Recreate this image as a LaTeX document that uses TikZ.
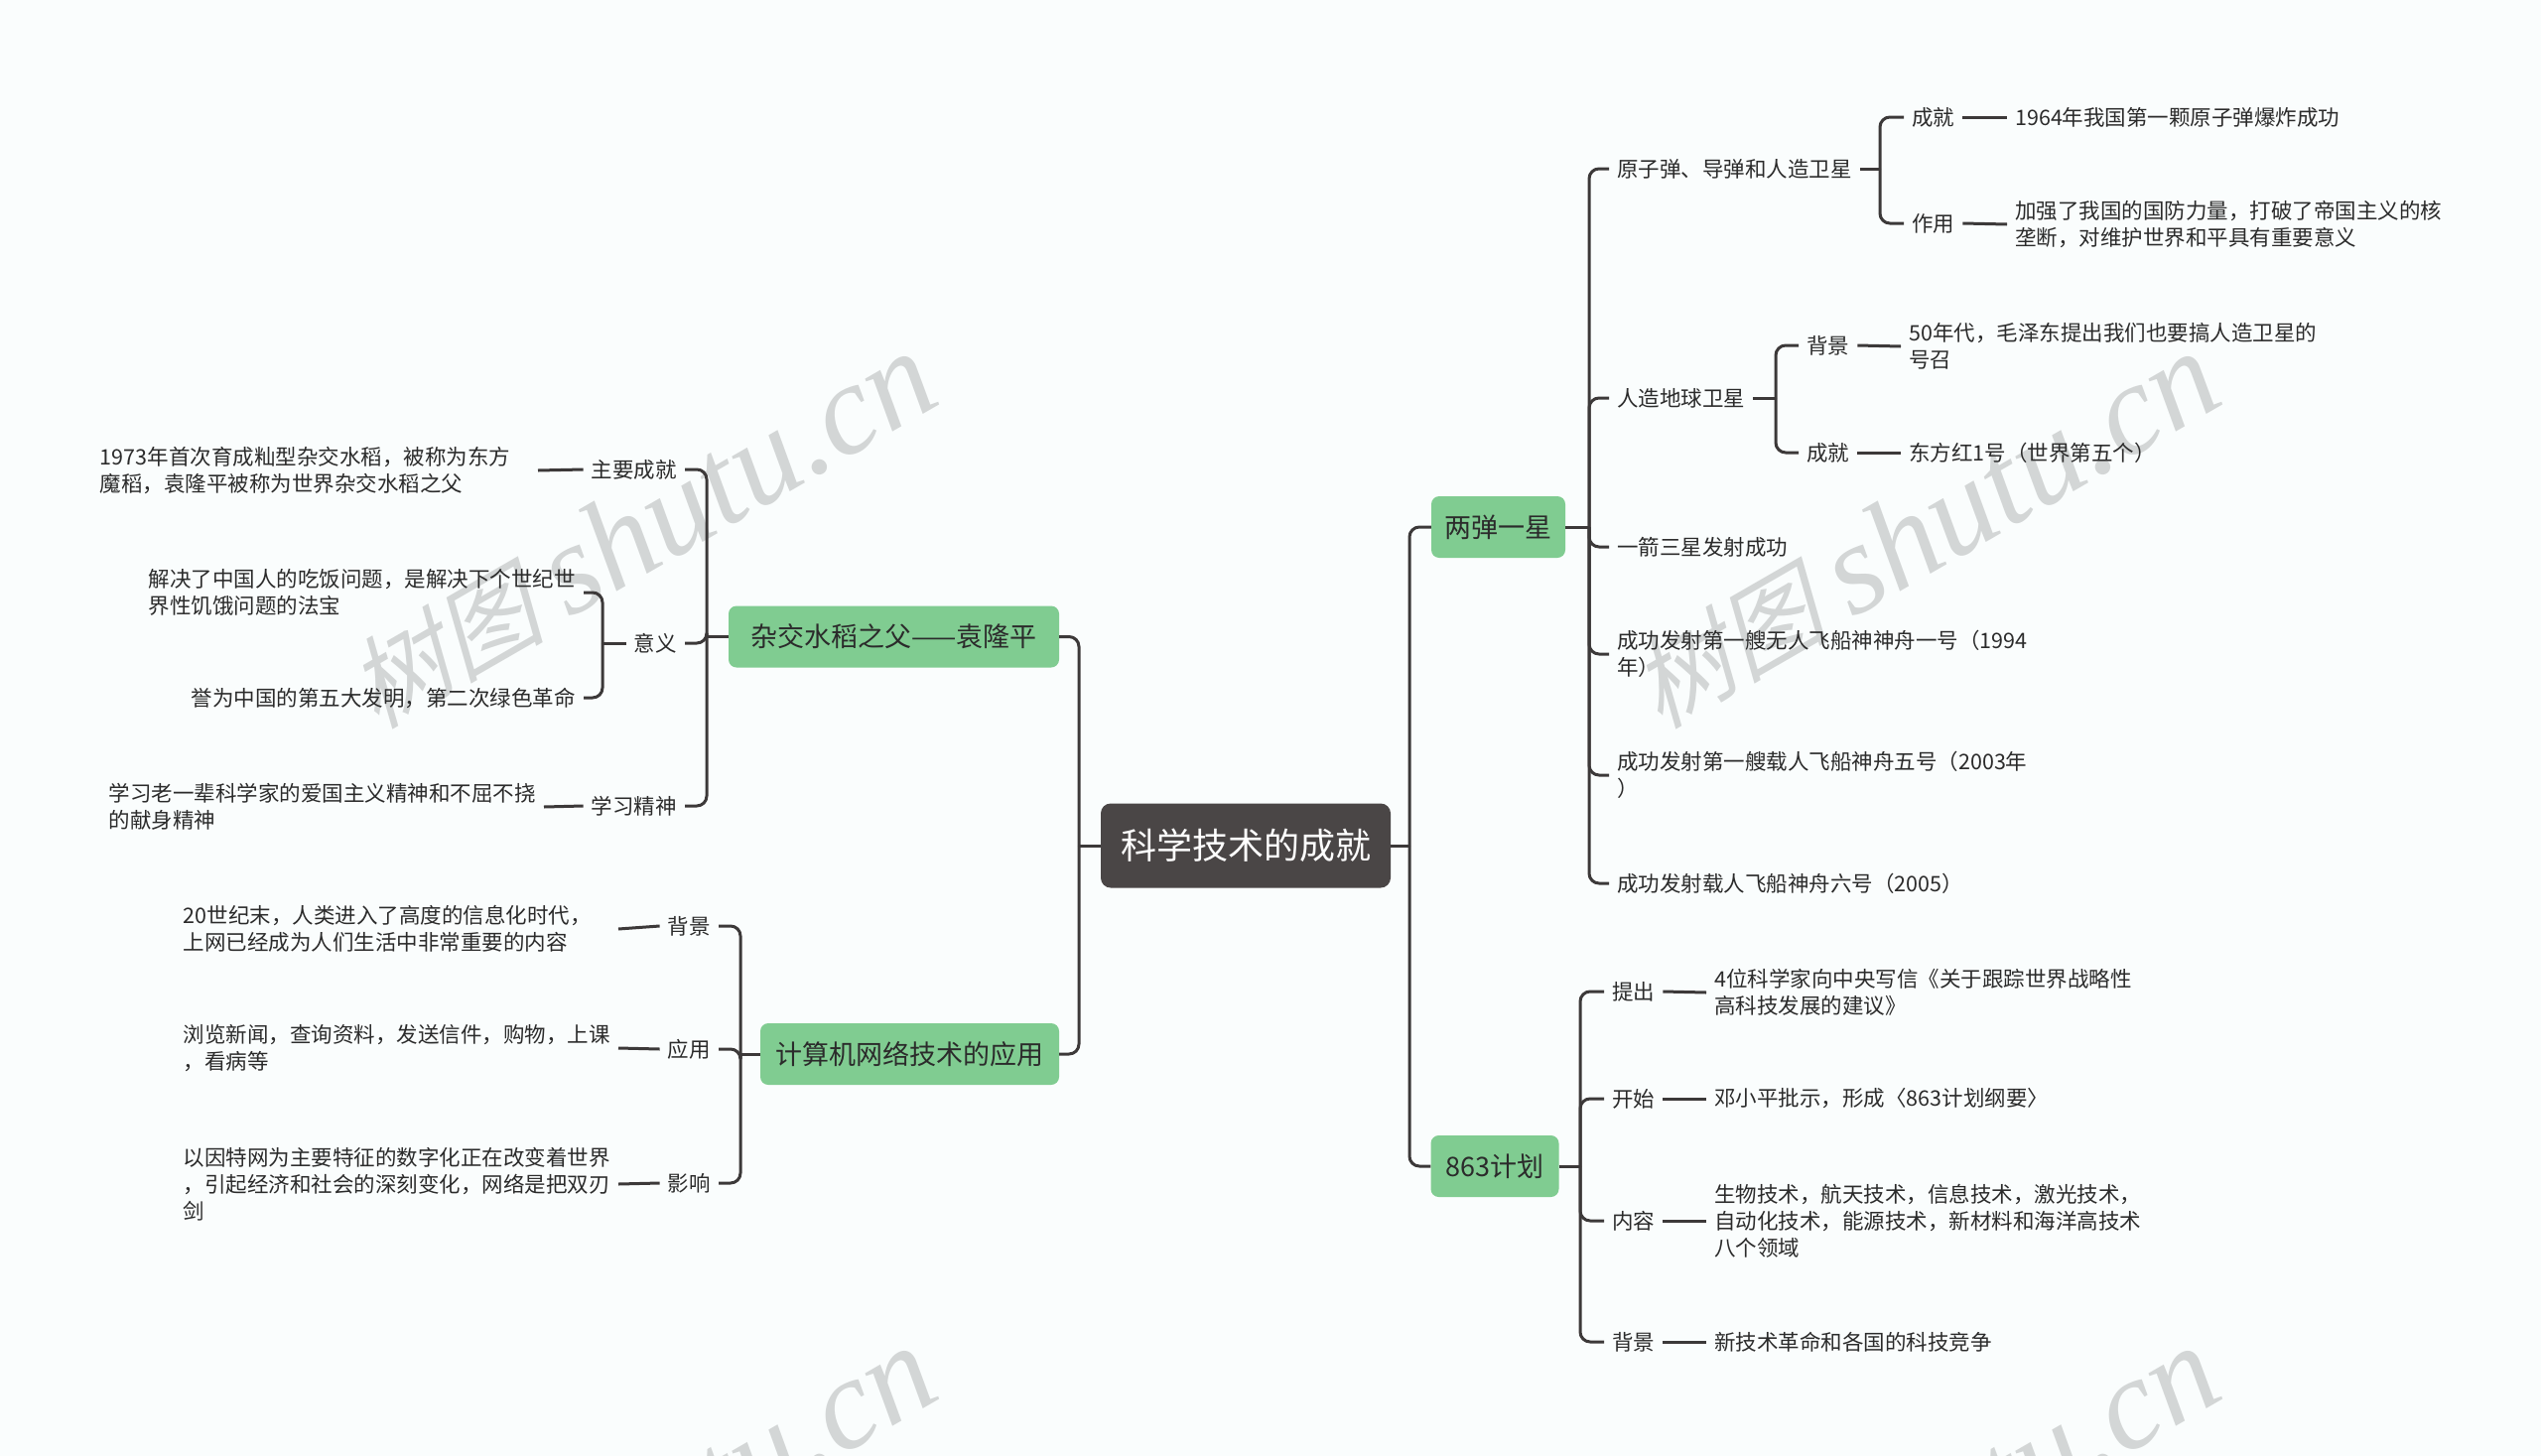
\documentclass[tikz,border=0pt]{standalone}
\usepackage{fontspec}
\setmainfont{Noto Sans CJK SC}
\newfontfamily\wmcjk[FakeSlant=0.25]{Noto Sans CJK SC}
\newfontfamily\wmlat{Liberation Serif}
\usetikzlibrary{calc}
\definecolor{bgc}{HTML}{FAFDFD}
\definecolor{linec}{HTML}{3C3939}
\definecolor{greenc}{HTML}{80CC91}
\definecolor{rootc}{HTML}{4A4646}
\definecolor{txtc}{HTML}{2B2B2B}
\definecolor{wmc}{HTML}{D3D6D6}
\begin{document}
\begin{tikzpicture}[x=1pt,y=-1pt,
  conn/.style={line width=3pt, draw=linec, rounded corners=10pt},
  txt/.style={font=\fontsize{21.5}{27}\selectfont, text=txtc, inner xsep=8pt, inner ysep=2pt, align=left},
  mainbox/.style={fill=greenc, rounded corners=8pt, font=\fontsize{27}{30}\selectfont, text=txtc, minimum height=62pt, inner xsep=12pt, inner ysep=0pt},
  rootbox/.style={fill=rootc, rounded corners=10pt, font=\fontsize{36}{40}\selectfont, text=white, minimum width=292pt, minimum height=85pt, inner sep=0pt},
  wm/.style={text=wmc, rotate=30, inner sep=0pt}]
\fill[bgc] (0,0) rectangle (2560,1467);
\useasboundingbox (0,0) rectangle (2560,1467);
% watermarks
\begin{scope}
\clip (0,0) rectangle (2560,1467);
\foreach \wx/\wy [count=\i] in {645/535, 1938/535, 645/1537, 1938/1537}{
  \node[wm] (wm\i) at (\wx,\wy) {\fontsize{100}{100}\wmcjk 树图\hspace{24pt}\fontsize{130}{130}\wmlat\itshape shutu.cn};
}
\end{scope}
% root and main branches
\node[rootbox] (root) at (1255,852) {科学技术的成就};
\node[mainbox, minimum width=135pt] (lds) at (1509.5,531) {两弹一星};
\node[mainbox, minimum width=129pt] (p863) at (1506,1175) {863计划};
\node[mainbox, minimum width=333pt] (yuan) at (900.5,641.5) {杂交水稻之父——袁隆平};
\node[mainbox, minimum width=301pt] (net) at (916.5,1062) {计算机网络技术的应用};
\coordinate (tR) at (1420,0);
\coordinate (tL) at (1087,0);
\draw[conn] (root.east) -- (root.east -| tR);
\draw[conn] (root.east -| tR) |- (lds.west);
\draw[conn] (root.east -| tR) |- (p863.west);
\draw[conn] (root.west) -- (root.west -| tL);
\draw[conn] (root.west -| tL) |- (yuan.east);
\draw[conn] (root.west -| tL) |- (net.east);
% ---------- 两弹一星 ----------
\node[txt, anchor=west] (a1) at (1621,170) {原子弹、导弹和人造卫星};
\node[txt, anchor=west] (a2) at (1621,401) {人造地球卫星};
\node[txt, anchor=west] (a3) at (1621,551) {一箭三星发射成功};
\node[txt, anchor=west] (a4) at (1621,659) {成功发射第一艘无人飞船神神舟一号（1994\\年）};
\node[txt, anchor=west] (a5) at (1621,781) {成功发射第一艘载人飞船神舟五号（2003年\\）};
\node[txt, anchor=west] (a6) at (1621,890) {成功发射载人飞船神舟六号（2005）};
\coordinate (bA) at (1601,0);
\draw[conn] (lds.east) -- (lds.east -| bA);
\foreach \c in {a1,a2,a3,a4,a5,a6}{\draw[conn] (lds.east -| bA) |- (\c.west);}
% 原子弹
\node[txt, anchor=west] (a1a) at (1918,118) {成就};
\node[txt, anchor=west] (a1b) at (1918,225) {作用};
\node[txt, anchor=west] (a1al) at (2022,118) {1964年我国第一颗原子弹爆炸成功};
\node[txt, anchor=west] (a1bl) at (2022,226) {加强了我国的国防力量，打破了帝国主义的核\\垄断，对维护世界和平具有重要意义};
\coordinate (bA1) at (1894,0);
\draw[conn] (a1.east) -- (a1.east -| bA1);
\draw[conn] (a1.east -| bA1) |- (a1a.west);
\draw[conn] (a1.east -| bA1) |- (a1b.west);
\draw[conn] (a1a.east) -- (a1al.west);
\draw[conn] (a1b.east) -- (a1bl.west);
% 人造地球卫星
\node[txt, anchor=west] (a2a) at (1812,348) {背景};
\node[txt, anchor=west] (a2b) at (1812,456) {成就};
\node[txt, anchor=west] (a2al) at (1915,349) {50年代，毛泽东提出我们也要搞人造卫星的\\号召};
\node[txt, anchor=west] (a2bl) at (1915,456) {东方红1号（世界第五个）};
\coordinate (bA2) at (1789,0);
\draw[conn] (a2.east) -- (a2.east -| bA2);
\draw[conn] (a2.east -| bA2) |- (a2a.west);
\draw[conn] (a2.east -| bA2) |- (a2b.west);
\draw[conn] (a2a.east) -- (a2al.west);
\draw[conn] (a2b.east) -- (a2bl.west);
% ---------- 863计划 ----------
\node[txt, anchor=west] (b1) at (1616,999) {提出};
\node[txt, anchor=west] (b2) at (1616,1107) {开始};
\node[txt, anchor=west] (b3) at (1616,1230) {内容};
\node[txt, anchor=west] (b4) at (1616,1352) {背景};
\node[txt, anchor=west] (b1l) at (1719,1000) {4位科学家向中央写信《关于跟踪世界战略性\\高科技发展的建议》};
\node[txt, anchor=west] (b2l) at (1719,1107) {邓小平批示，形成〈863计划纲要〉};
\node[txt, anchor=west] (b3l) at (1719,1230) {生物技术，航天技术，信息技术，激光技术，\\自动化技术，能源技术，新材料和海洋高技术\\八个领域};
\node[txt, anchor=west] (b4l) at (1719,1352) {新技术革命和各国的科技竞争};
\coordinate (bB) at (1592,0);
\draw[conn] (p863.east) -- (p863.east -| bB);
\foreach \c in {b1,b2,b3,b4}{\draw[conn] (p863.east -| bB) |- (\c.west); \draw[conn] (\c.east) -- (\c l.west);}
% ---------- 杂交水稻 ----------
\node[txt, anchor=east] (c1) at (690,473) {主要成就};
\node[txt, anchor=east] (c2) at (690,648) {意义};
\node[txt, anchor=east] (c3) at (690,812) {学习精神};
\node[txt, anchor=east, text width=433pt] (c1l) at (542,474) {1973年首次育成籼型杂交水稻，被称为东方\\魔稻，袁隆平被称为世界杂交水稻之父};
\node[txt, anchor=east, text width=430pt] (c3l) at (548,813) {学习老一辈科学家的爱国主义精神和不屈不挠\\的献身精神};
\node[txt, anchor=east, text width=430pt] (c2a) at (588,597) {解决了中国人的吃饭问题，是解决下个世纪世\\界性饥饿问题的法宝};
\node[txt, anchor=east] (c2b) at (588,703) {誉为中国的第五大发明，第二次绿色革命};
\coordinate (bC) at (712,0);
\draw[conn] (yuan.west) -- (yuan.west -| bC);
\foreach \c in {c1,c2,c3}{\draw[conn] (yuan.west -| bC) |- (\c.east);}
\draw[conn] (c1.west) -- (c1l.east);
\draw[conn] (c3.west) -- (c3l.east);
\coordinate (bC2) at (607,0);
\draw[conn] (c2.west) -- (c2.west -| bC2);
\draw[conn] (c2.west -| bC2) |- (c2a.east);
\draw[conn] (c2.west -| bC2) |- (c2b.east);
% ---------- 计算机网络 ----------
\node[txt, anchor=east] (d1) at (724,933) {背景};
\node[txt, anchor=east] (d2) at (724,1057) {应用};
\node[txt, anchor=east] (d3) at (724,1192) {影响};
\node[txt, anchor=east, text width=430pt] (d1l) at (623,936) {20世纪末，人类进入了高度的信息化时代，\\上网已经成为人们生活中非常重要的内容};
\node[txt, anchor=east, text width=430pt] (d2l) at (623,1056) {浏览新闻，查询资料，发送信件，购物，上课\\，看病等};
\node[txt, anchor=east, text width=430pt] (d3l) at (623,1193) {以因特网为主要特征的数字化正在改变着世界\\，引起经济和社会的深刻变化，网络是把双刃\\剑};
\coordinate (bD) at (746,0);
\draw[conn] (net.west) -- (net.west -| bD);
\foreach \c in {d1,d2,d3}{\draw[conn] (net.west -| bD) |- (\c.east); \draw[conn] (\c.west) -- (\c l.east);}
\end{tikzpicture}
\end{document}
